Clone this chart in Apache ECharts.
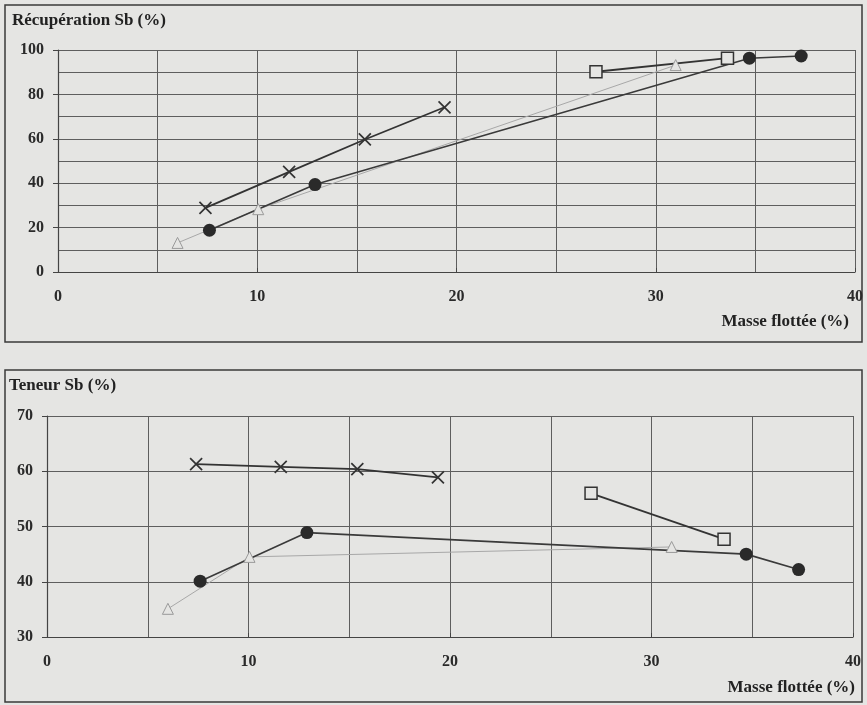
<!DOCTYPE html>
<html><head><meta charset="utf-8">
<script src="https://cdn.jsdelivr.net/npm/echarts@6/dist/echarts.min.js"></script>
<style>html,body{margin:0;padding:0;background:#e5e5e3}#c{width:867px;height:705px}</style>
</head><body><div id="c"></div>
<script>
// ---- data ----
const crossX = [7.4, 11.6, 15.4, 19.4];
const crossRec = [28.9, 45.1, 59.7, 74.2];
const crossTen = [61.3, 60.8, 60.4, 58.9];

const circleX = [7.6, 12.9, 34.7, 37.3];
const circleRec = [18.8, 39.4, 96.3, 97.3];
const circleTen = [40.1, 48.9, 45.0, 42.2];

const triX = [6.0, 10.05, 31.0];
const triRec = [13.1, 28.3, 93.2];
const triTen = [35.1, 44.5, 46.3];

const sqX = [27.0, 33.6];
const sqRec = [90.2, 96.3];
const sqTen = [56.0, 47.7];

const xTicks = [0, 10, 20, 30, 40];
const recTicks = [0, 20, 40, 60, 80, 100];
const tenTicks = [30, 40, 50, 60, 70];

const BG = '#e5e5e3';
const GRID = '#5e5e5e';
const FONT = '"Liberation Serif", "DejaVu Serif", serif';

function pairs(xs, ys){ return xs.map((x,i)=>[x, ys[i]]); }

const labelStyle = {fontFamily: FONT, fontWeight: 'bold', fontSize: 16, color: '#2a2a2a'};

function xAxis(gi){
  return {
    type: 'value', gridIndex: gi, min: xTicks[0], max: xTicks[xTicks.length-1], interval: 10,
    axisLine: {show: true, onZero: false, lineStyle: {color: '#444', width: 1.2}},
    axisTick: {show: true, inside: true, length: 4, lineStyle: {color: '#444'}},
    axisLabel: Object.assign({margin: 17}, labelStyle),
    splitLine: {show: true, lineStyle: {color: GRID, width: 1}},
    minorTick: {show: false, splitNumber: 2},
    minorSplitLine: {show: true, lineStyle: {color: GRID, width: 1}}
  };
}

const cross = 'path://M0,0L10,10M10,0L0,10';

function series(gi, data, opts){
  return Object.assign({
    type: 'line', xAxisIndex: gi, yAxisIndex: gi, data: data,
    animation: false, silent: true, z: 3
  }, opts);
}

function seriesSet(gi, rec){
  const A = rec ? [crossRec, circleRec, triRec, sqRec] : [crossTen, circleTen, triTen, sqTen];
  return [
    series(gi, pairs(triX, A[2]), {symbol: 'triangle', symbolSize: 11,
      lineStyle: {color: '#a8a8a8', width: 1},
      itemStyle: {color: BG, borderColor: '#9a9a9a', borderWidth: 1}}),
    series(gi, pairs(circleX, A[1]), {symbol: 'circle', symbolSize: 13,
      lineStyle: {color: '#3a3a3a', width: 1.6},
      itemStyle: {color: '#2a2a2a', borderColor: '#2a2a2a', borderWidth: 0}}),
    series(gi, pairs(crossX, A[0]), {symbol: cross, symbolSize: 12,
      lineStyle: {color: '#333', width: 1.8},
      itemStyle: {color: '#333', borderColor: '#333', borderWidth: 1.7}}),
    series(gi, pairs(sqX, A[3]), {symbol: 'rect', symbolSize: 12,
      lineStyle: {color: '#333', width: 1.8},
      itemStyle: {color: BG, borderColor: '#333', borderWidth: 1.5}})
  ];
}

const chart = echarts.init(document.getElementById('c'));
chart.setOption({
  backgroundColor: BG,
  animation: false,
  grid: [
    {left: 58, right: 12, top: 50, height: 222},
    {left: 47, right: 14, top: 416, height: 221}
  ],
  xAxis: [xAxis(0), xAxis(1)],
  yAxis: [
    {type: 'value', gridIndex: 0, min: recTicks[0], max: recTicks[recTicks.length-1], interval: 20,
      axisLine: {show: true, lineStyle: {color: '#444', width: 1.2}},
      axisTick: {show: true, length: 5, lineStyle: {color: '#444'}},
      axisLabel: Object.assign({margin: 14}, labelStyle),
      splitLine: {show: true, lineStyle: {color: GRID, width: 1}},
      minorTick: {show: false, splitNumber: 2},
      minorSplitLine: {show: true, lineStyle: {color: GRID, width: 1}}},
    {type: 'value', gridIndex: 1, min: tenTicks[0], max: tenTicks[tenTicks.length-1], interval: 10,
      axisLine: {show: true, lineStyle: {color: '#444', width: 1.2}},
      axisTick: {show: true, length: 5, lineStyle: {color: '#444'}},
      axisLabel: Object.assign({margin: 14}, labelStyle),
      splitLine: {show: true, lineStyle: {color: GRID, width: 1}}}
  ],
  graphic: [
    {type: 'rect', shape: {x: 5, y: 5, width: 857, height: 337}, style: {fill: 'none', stroke: '#3a3a3a', lineWidth: 1.5}, silent: true},
    {type: 'rect', shape: {x: 5, y: 370, width: 857, height: 332}, style: {fill: 'none', stroke: '#3a3a3a', lineWidth: 1.5}, silent: true},
    {type: 'text', left: 12, top: 12, style: {text: 'Récupération Sb (%)', font: 'bold 17px ' + FONT, fill: '#222'}},
    {type: 'text', left: 9, top: 377, style: {text: 'Teneur Sb (%)', font: 'bold 17px ' + FONT, fill: '#222'}},
    {type: 'text', right: 18, top: 313, style: {text: 'Masse flottée (%)', font: 'bold 17px ' + FONT, fill: '#222'}},
    {type: 'text', right: 12, top: 679, style: {text: 'Masse flottée (%)', font: 'bold 17px ' + FONT, fill: '#222'}}
  ],
  series: seriesSet(0, true).concat(seriesSet(1, false))
});
</script>
</body></html>
